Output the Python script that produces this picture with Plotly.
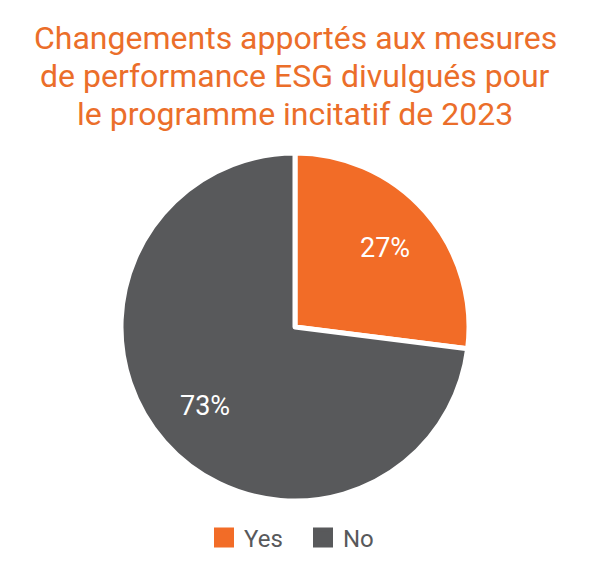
import math
import plotly.graph_objects as go

labels = ["Yes", "No"]
values = [27, 73]
colors = ["#F26C27", "#58595B"]
title_lines = ["Changements apportés aux mesures",
               "de performance ESG divulgués pour",
               "le programme incitatif de 2023"]

W, H = 597, 586
ML, MR, MT, MB = 121, 128, 153, 85
PH = H - MT - MB
PW = W - ML - MR

fig = go.Figure()
fig.add_trace(go.Pie(
    labels=labels,
    values=values,
    sort=False,
    direction="clockwise",
    rotation=0,
    marker=dict(colors=colors, line=dict(color="white", width=5)),
    textinfo="none",
    hoverinfo="label+percent",
    showlegend=False,
    domain=dict(x=[0, 1], y=[0, 1]),
))

# percentage labels placed at the slice mid-angles
total = sum(values)
cum = 0
for v in values:
    mid = (cum + v / 2) / total * 2 * math.pi
    cum += v
    r = 0.5 * 0.69
    fig.add_annotation(
        x=0.5 + r * math.sin(mid), y=0.5 + r * math.cos(mid),
        xref="paper", yref="paper", showarrow=False,
        text=f"{round(v / total * 100)}%",
        font=dict(family="Roboto", size=27, color="white"),
        xanchor="center", yanchor="middle",
    )

# legend entries (square markers) for the pie categories
for lab, col in zip(labels, colors):
    fig.add_trace(go.Scatter(
        x=[None], y=[None], mode="markers", name=lab,
        marker=dict(symbol="square", size=20, color=col,
                    line=dict(color=col, width=4)),
        showlegend=True, hoverinfo="skip",
    ))

# title, one line per annotation
for i, line in enumerate(title_lines):
    ypix = 38 + 38 * i
    fig.add_annotation(
        text=line,
        x=0.5, xref="paper", xanchor="center",
        y=(H - MB - ypix) / PH, yref="paper", yanchor="middle",
        showarrow=False,
        font=dict(family="Roboto", size=32, color="#EB6E2A"),
    )

fig.update_layout(
    width=W, height=H,
    margin=dict(l=ML, r=MR, t=MT, b=MB),
    paper_bgcolor="white", plot_bgcolor="white",
    xaxis=dict(visible=False), yaxis=dict(visible=False),
    legend=dict(
        orientation="h", x=0.5 + 8 / PW, xanchor="center",
        y=-0.05 + 3 / PH, yanchor="top",
        font=dict(family="Roboto", size=24, color="#58595B"),
        itemsizing="trace", entrywidth=54,
    ),
)

fig.write_html("out.html", config={"displayModeBar": False},
               post_script="document.body.style.margin='0';")
